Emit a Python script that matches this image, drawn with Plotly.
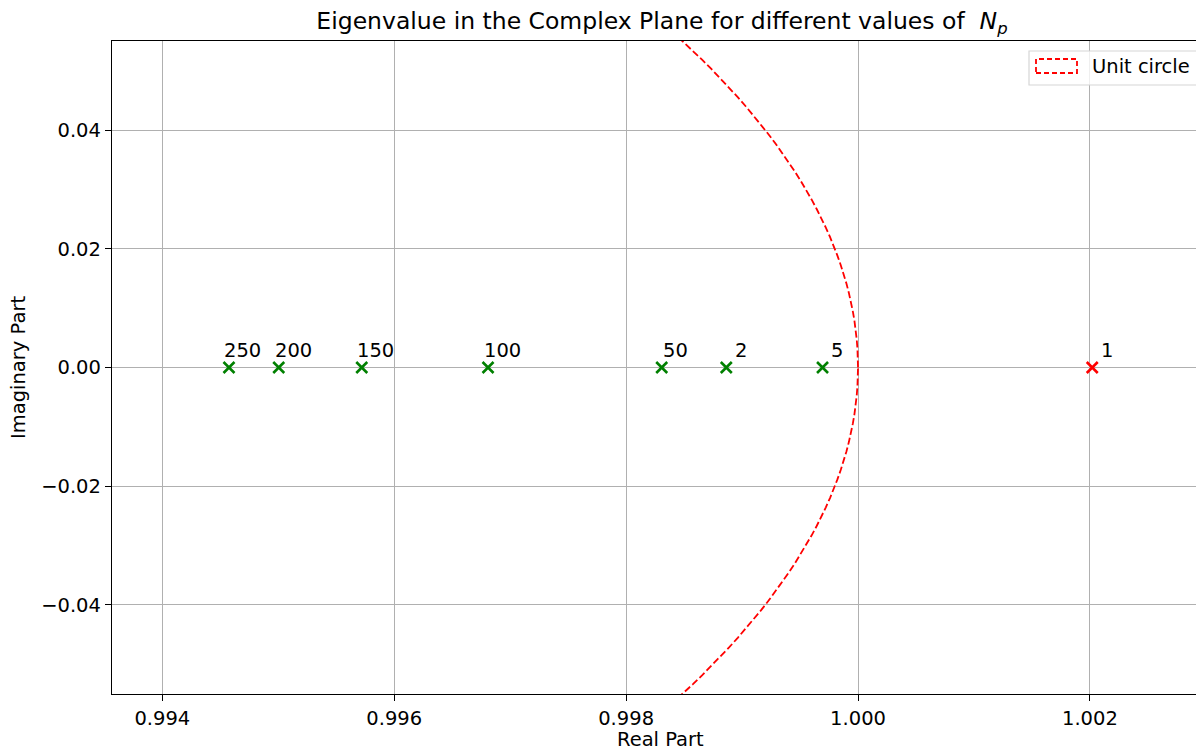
import numpy as np
import plotly.graph_objects as go

# Dominant eigenvalue for each number of particles N_p
n_p = [1, 2, 5, 50, 100, 150, 200, 250]
eig_real = [1.00202, 0.998864, 0.999694, 0.998307, 0.996809, 0.99572, 0.995004, 0.994575]
eig_imag = [0.0, 0.0, 0.0, 0.0, 0.0, 0.0, 0.0, 0.0]

# horizontal nudge (px) of each N_p label relative to its marker
label_dx = [9, 9, 9, 2, -4, -4, -3, -4]

x_ticks = [0.994, 0.996, 0.998, 1.000, 1.002]
y_ticks = [-0.04, -0.02, 0.00, 0.02, 0.04]

FONT = "DejaVu Sans"
FS = 19.5          # tick labels, axis titles, annotations, legend
FS_TITLE = 23.5
W, H = 1196, 753
L, R, T, B = 112, 0, 41, 59
plot_w = W - L - R
plot_h = H - T - B

x_range = [0.993566, 0.993566 + plot_w / 115950]
y_range = [-0.055, 0.055]

theta = np.linspace(0, 2 * np.pi, 4001)

fig = go.Figure()

# unit circle (stability boundary)
fig.add_trace(go.Scatter(
    x=np.cos(theta), y=np.sin(theta), mode="lines",
    line=dict(color="red", width=1.8, dash="7px,3px"),
    showlegend=False, hoverinfo="skip",
))

# eigenvalues: red if outside the unit circle, green otherwise
mag = np.hypot(eig_real, eig_imag)
colors = ["red" if m > 1 else "green" for m in mag]
fig.add_trace(go.Scatter(
    x=eig_real, y=eig_imag, mode="markers",
    marker=dict(symbol="x-thin", size=11, color=colors,
                line=dict(width=2.6, color=colors)),
    showlegend=False,
))

for n, xr, yi, dx in zip(n_p, eig_real, eig_imag, label_dx):
    fig.add_annotation(
        x=xr, y=yi, xref="x", yref="y", text=str(n), showarrow=False,
        xanchor="left", yanchor="bottom", xshift=dx - 2.5, yshift=4,
        font=dict(family=FONT, size=FS, color="black"),
    )

def px_x(p):
    return (p - L) / plot_w

def px_y(p):
    return (H - B - p) / plot_h

# legend box with a dashed patch for the unit circle
fig.add_shape(type="rect", xref="paper", yref="paper",
              x0=px_x(1029), x1=px_x(1230), y0=px_y(85), y1=px_y(51),
              line=dict(color="#d6d6d6", width=1.2), fillcolor="rgba(255,255,255,0.8)",
              layer="above")
fig.add_shape(type="rect", xref="paper", yref="paper",
              x0=px_x(1036), x1=px_x(1077), y0=px_y(73), y1=px_y(59),
              line=dict(color="red", width=1.8, dash="5px,3px"), fillcolor="rgba(0,0,0,0)",
              layer="above")
fig.add_annotation(x=px_x(1090), y=px_y(67), xref="paper", yref="paper",
                   text="Unit circle", showarrow=False, xanchor="left", yanchor="middle",
                   font=dict(family=FONT, size=FS, color="black"))

# axis titles
fig.add_annotation(x=px_x(660), y=px_y(753), xref="paper", yref="paper",
                   text="Real Part", showarrow=False, xanchor="center", yanchor="bottom",
                   font=dict(family=FONT, size=FS, color="black"))
fig.add_annotation(x=px_x(19), y=px_y(368), xref="paper", yref="paper",
                   text="Imaginary Part", showarrow=False, textangle=-90,
                   xanchor="center", yanchor="middle",
                   font=dict(family=FONT, size=FS, color="black"))

axis_common = dict(
    showgrid=True, gridcolor="#b0b0b0", gridwidth=1.1,
    zeroline=False, showline=True, linecolor="black", linewidth=1.3,
    ticks="outside", ticklen=6, tickwidth=1.3, tickcolor="black",
    tickfont=dict(family=FONT, size=FS, color="black"),
)

fig.update_xaxes(range=x_range, tickvals=x_ticks, tickformat=".3f",
                 mirror=True, **axis_common)
fig.update_yaxes(range=y_range, tickvals=y_ticks, tickformat=".2f",
                 mirror=False, **axis_common)

fig.update_layout(
    width=W, height=H,
    margin=dict(l=L, r=R, t=T, b=B),
    plot_bgcolor="white", paper_bgcolor="white",
    title=dict(text="Eigenvalue in the Complex Plane for different values of  <i>N</i><sub><i>p</i></sub>",
               x=px_x(662), xref="paper", xanchor="center",
               y=1 - 21 / H, yref="container", yanchor="middle",
               font=dict(family=FONT, size=FS_TITLE, color="black")),
    font=dict(family=FONT),
)

fig.write_html("out.html")
